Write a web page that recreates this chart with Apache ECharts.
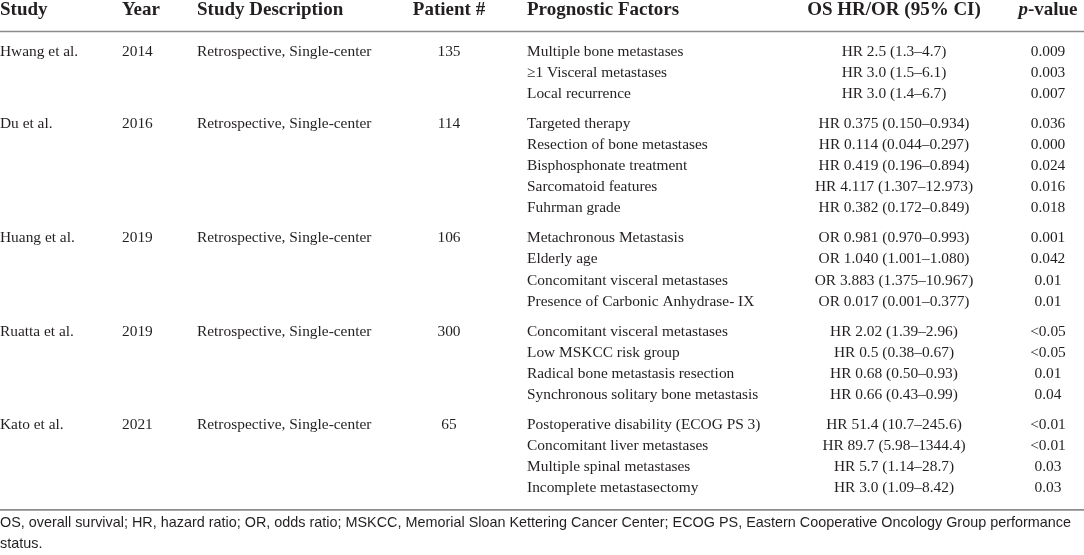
<!DOCTYPE html>
<html>
<head>
<meta charset="utf-8">
<title>Prognostic factors in bone metastases</title>
<script src="https://cdn.jsdelivr.net/npm/echarts@6/dist/echarts.min.js"></script>
</head>
<body style="margin:0;padding:0;background:#fff;">
<div id="main" style="width:1084px;height:555px;"></div>
<script>
// table content
var headers = ['Study', 'Year', 'Study Description', 'Patient #', 'Prognostic Factors', 'OS HR/OR (95% CI)', '{i|p}-value'];
var studies = ['Hwang et al.', 'Du et al.', 'Huang et al.', 'Ruatta et al.', 'Kato et al.'];
var years = ['2014', '2016', '2019', '2019', '2021'];
var descriptions = ['Retrospective, Single-center', 'Retrospective, Single-center', 'Retrospective, Single-center',
    'Retrospective, Single-center', 'Retrospective, Single-center'];
var patients = [135, 114, 106, 300, 65];
var factors = [
    ['Multiple bone metastases', '\u22651 Visceral metastases', 'Local recurrence'],
    ['Targeted therapy', 'Resection of bone metastases', 'Bisphosphonate treatment', 'Sarcomatoid features', 'Fuhrman grade'],
    ['Metachronous Metastasis', 'Elderly age', 'Concomitant visceral metastases', 'Presence of Carbonic Anhydrase- IX'],
    ['Concomitant visceral metastases', 'Low MSKCC risk group', 'Radical bone metastasis resection', 'Synchronous solitary bone metastasis'],
    ['Postoperative disability (ECOG PS 3)', 'Concomitant liver metastases', 'Multiple spinal metastases', 'Incomplete metastasectomy']
];
var ratios = [
    ['HR 2.5 (1.3\u20134.7)', 'HR 3.0 (1.5\u20136.1)', 'HR 3.0 (1.4\u20136.7)'],
    ['HR 0.375 (0.150\u20130.934)', 'HR 0.114 (0.044\u20130.297)', 'HR 0.419 (0.196\u20130.894)', 'HR 4.117 (1.307\u201312.973)', 'HR 0.382 (0.172\u20130.849)'],
    ['OR 0.981 (0.970\u20130.993)', 'OR 1.040 (1.001\u20131.080)', 'OR 3.883 (1.375\u201310.967)', 'OR 0.017 (0.001\u20130.377)'],
    ['HR 2.02 (1.39\u20132.96)', 'HR 0.5 (0.38\u20130.67)', 'HR 0.68 (0.50\u20130.93)', 'HR 0.66 (0.43\u20130.99)'],
    ['HR 51.4 (10.7\u2013245.6)', 'HR 89.7 (5.98\u20131344.4)', 'HR 5.7 (1.14\u201328.7)', 'HR 3.0 (1.09\u20138.42)']
];
var pValues = [
    ['0.009', '0.003', '0.007'],
    ['0.036', '0.000', '0.024', '0.016', '0.018'],
    ['0.001', '0.042', '0.01', '0.01'],
    ['<0.05', '<0.05', '0.01', '0.04'],
    ['<0.01', '<0.01', '0.03', '0.03']
];
var footnote = 'OS, overall survival; HR, hazard ratio; OR, odds ratio; MSKCC, Memorial Sloan Kettering Cancer Center; ECOG PS, Eastern Cooperative Oncology Group performance\nstatus.';

// layout
var INK = '#231f20';
var RULE = '#8c8c8c';
var FIRST_ROW = 51.5, ROW_STEP = 21.1, GROUP_GAP = 9;
var slot = function (px) { return (px - FIRST_ROW) / ROW_STEP; };
// column anchors: [x, align]
var cols = [[0, 'left'], [122, 'left'], [197, 'left'], [449, 'center'], [527, 'left'], [894, 'center'], [1048, 'center']];
var bodyFont = '15.4px "Liberation Serif", "Times New Roman", serif';
var headFont = 'bold 19px "Liberation Serif", "Times New Roman", serif';

// one record per factor row; the slot adds a small gap between studies
var rows = [];
factors.forEach(function (list, g) {
    list.forEach(function (f, k) {
        rows.push({ g: g, k: k, value: [0, rows.length + g * GROUP_GAP / ROW_STEP] });
    });
});

var myChart = echarts.init(document.getElementById('main'));

function cell(api, col, yv, str, font, rich) {
    var p = api.coord([cols[col][0], yv]);
    return {
        type: 'text', x: p[0], y: p[1],
        style: { text: str, font: font, fill: INK, align: cols[col][1], verticalAlign: 'middle', rich: rich }
    };
}

function renderRow(params, api) {
    var r = rows[params.dataIndex];
    var yv = api.value(1);
    var kids = [];
    if (r.k === 0) {
        kids.push(cell(api, 0, yv, studies[r.g], bodyFont));
        kids.push(cell(api, 1, yv, years[r.g], bodyFont));
        kids.push(cell(api, 2, yv, descriptions[r.g], bodyFont));
        kids.push(cell(api, 3, yv, String(patients[r.g]), bodyFont));
    }
    kids.push(cell(api, 4, yv, factors[r.g][r.k], bodyFont));
    kids.push(cell(api, 5, yv, ratios[r.g][r.k], bodyFont));
    kids.push(cell(api, 6, yv, pValues[r.g][r.k], bodyFont));
    return { type: 'group', children: kids };
}

function renderHeader(params, api) {
    var yv = api.value(1);
    var kids = headers.map(function (h, i) {
        return cell(api, i, yv, h, headFont, {
            i: { fontStyle: 'italic', fontWeight: 'bold', fontSize: 19, fontFamily: 'Liberation Serif', fill: INK }
        });
    });
    var lastSlot = rows[rows.length - 1].value[1];
    [slot(31.5), lastSlot + 1.02].forEach(function (s) {
        var a = api.coord([0, s]), b = api.coord([1084, s]);
        kids.push({ type: 'line', shape: { x1: a[0], y1: a[1], x2: b[0], y2: b[1] }, style: { stroke: RULE, lineWidth: 1.6 } });
    });
    return { type: 'group', children: kids };
}

option = {
    animation: false,
    backgroundColor: '#fff',
    grid: { left: 0, right: 0, top: 0, bottom: 0 },
    xAxis: { type: 'value', min: 0, max: 1084, show: false },
    yAxis: { type: 'value', inverse: true, min: slot(0), max: slot(555), show: false },
    graphic: [{
        type: 'text', left: 0, top: 513,
        style: { text: footnote, font: '14.4px "Liberation Sans", Arial, sans-serif', fill: INK, lineHeight: 21 }
    }],
    series: [
        { type: 'custom', name: 'header', renderItem: renderHeader, data: [[0, slot(10.5)]], silent: true },
        { type: 'custom', name: 'rows', renderItem: renderRow, data: rows, silent: true }
    ]
};
myChart.setOption(option);
</script>
</body>
</html>
